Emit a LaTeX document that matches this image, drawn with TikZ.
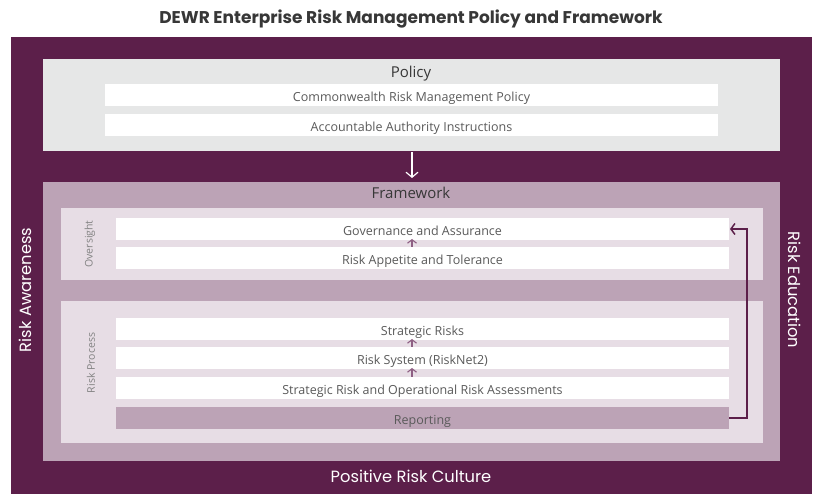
\documentclass[tikz,border=0pt]{standalone}
\usepackage{fontspec}
\setmainfont{Open Sans}
\newfontfamily\headfont{Poppins}
\usetikzlibrary{arrows.meta,calc}
\definecolor{dkpurple}{RGB}{92,31,74}
\definecolor{mauve}{RGB}{188,163,182}
\definecolor{lightmauve}{RGB}{231,221,229}
\definecolor{policygray}{RGB}{230,231,231}
\definecolor{txtgray}{RGB}{90,90,90}
\definecolor{hdgray}{RGB}{55,55,55}
\definecolor{lblgray}{RGB}{130,130,130}
\definecolor{arrowmauve}{RGB}{142,95,131}
\tikzset{
  panel/.style={inner sep=0pt, outer sep=0pt, draw=none},
  rowbox/.style={fill=white, inner sep=0pt, outer sep=0pt, minimum width=613pt, minimum height=22pt,
     text height=14pt, text depth=1pt,
     text=txtgray, font=\fontsize{12.5}{14}\selectfont},
  header/.style={text=hdgray, font=\fontsize{15}{18}\selectfont, inner sep=0pt, anchor=base},
  sidelabel/.style={text=white, font=\headfont\fontsize{16.3}{19}\selectfont, inner sep=0pt},
  grouplabel/.style={text=lblgray, font=\fontsize{10.5}{12}\selectfont, inner sep=0pt},
  uparrow/.style={draw=arrowmauve, line width=1.1pt, -{Straight Barb[length=3.5pt,width=9pt]}},
}
\begin{document}
\begin{tikzpicture}[x=1pt,y=-1pt]
\useasboundingbox (0,0) rectangle (819,502);
\fill[white] (0,0) rectangle (819,502);
% title
\node[text=hdgray, font=\headfont\bfseries\fontsize{17}{20}\selectfont, inner sep=0pt, anchor=base] (title) at (411,24) {DEWR Enterprise Risk Management Policy and Framework};
% outer
\node[panel, fill=dkpurple, minimum width=801pt, minimum height=457pt] (outer) at (411.5,265.5) {};
% policy
\node[panel, fill=policygray, minimum width=737pt, minimum height=92pt] (policy) at (411.5,105) {};
\node[header] (policyhd) at (411,78) {Policy};
\node[rowbox] (cw) at (411.5,95) {Commonwealth Risk Management Policy};
\node[rowbox] (aai) at (411.5,125) {Accountable Authority Instructions};
% framework
\node[panel, fill=mauve, minimum width=737pt, minimum height=279pt] (framework) at (411.5,321.5) {};
\node[header] (frameworkhd) at (411,199) {Framework};
\node[panel, fill=lightmauve, minimum width=702pt, minimum height=72pt] (oversight) at (412,244) {};
\node[panel, fill=lightmauve, minimum width=702pt, minimum height=142pt] (process) at (412,372) {};
\node[grouplabel, rotate=90] (oversightlbl) at (90,244) {Oversight};
\node[grouplabel, rotate=90] (processlbl) at (91,363) {Risk Process};
% rows
\node[rowbox] (gov) at (422.5,229) {Governance and Assurance};
\node[rowbox] (app) at (422.5,258) {Risk Appetite and Tolerance};
\node[rowbox] (strat) at (422.5,329) {Strategic Risks};
\node[rowbox] (sys) at (422.5,358) {Risk System (RiskNet2)};
\node[rowbox] (ops) at (422.5,388) {Strategic Risk and Operational Risk Assessments};
\node[rowbox, fill=mauve] (rep) at (422.5,418) {Reporting};
% side labels
\node[sidelabel, rotate=90] (aware) at (25,290) {Risk Awareness};
\node[sidelabel, rotate=-90] (edu) at (795,290) {Risk Education};
\node[sidelabel] (culture) at (411,476) {Positive Risk Culture};
% arrows
\coordinate (ax) at (412,0);
\draw[white, line width=1.2pt, -{Straight Barb[length=5pt,width=12pt]}, shorten <=1.5pt, shorten >=4pt]
  (policy.south -| ax) -- (framework.north -| ax);
\draw[uparrow, shorten >=-1pt] (app.north -| ax) -- (gov.south -| ax);
\draw[uparrow, shorten >=-1pt] (sys.north -| ax) -- (strat.south -| ax);
\draw[uparrow, shorten >=-1pt] (ops.north -| ax) -- (sys.south -| ax);
\draw[dkpurple, line width=1.5pt, -{Straight Barb[length=4pt,width=11pt]}, shorten >=1pt]
  (rep.east) -- ++(18,0) |- (gov.east);
\end{tikzpicture}
\end{document}
